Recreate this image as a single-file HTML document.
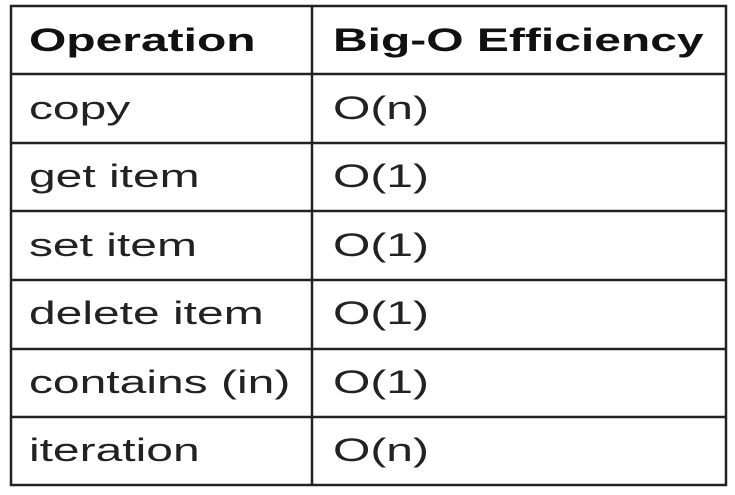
<!DOCTYPE html>
<html><head><style>html,body{margin:0;padding:0;background:#fff;}svg{display:block}</style></head>
<body>
<svg width="735" height="495" xmlns="http://www.w3.org/2000/svg">
<rect x="0" y="0" width="735" height="495" fill="#fff"/>
<g stroke="#222" stroke-width="2.5" fill="none">
<rect x="11" y="6" width="715" height="479"/>
<line x1="312" y1="6" x2="312" y2="485"/>
<line x1="11" y1="74" x2="726" y2="74"/>
<line x1="11" y1="143" x2="726" y2="143"/>
<line x1="11" y1="211" x2="726" y2="211"/>
<line x1="11" y1="280" x2="726" y2="280"/>
<line x1="11" y1="349" x2="726" y2="349"/>
<line x1="11" y1="417" x2="726" y2="417"/>
</g>
<g font-family="Liberation Sans, Arial, sans-serif" font-size="32" fill="#111" transform="scale(1.5,1)">
<text x="19.3" y="51" font-weight="bold">Operation</text>
<text x="222" y="51" font-weight="bold">Big-O Efficiency</text>
<g fill="#222">
<text x="19.3" y="119">copy</text><text x="222" y="119">O(n)</text>
<text x="19.3" y="187">get item</text><text x="222" y="187">O(1)</text>
<text x="19.3" y="256">set item</text><text x="222" y="256">O(1)</text>
<text x="19.3" y="324">delete item</text><text x="222" y="324">O(1)</text>
<text x="19.3" y="393">contains (in)</text><text x="222" y="393">O(1)</text>
<text x="19.3" y="461">iteration</text><text x="222" y="461">O(n)</text>
</g>
</g>
</svg>
</body></html>
